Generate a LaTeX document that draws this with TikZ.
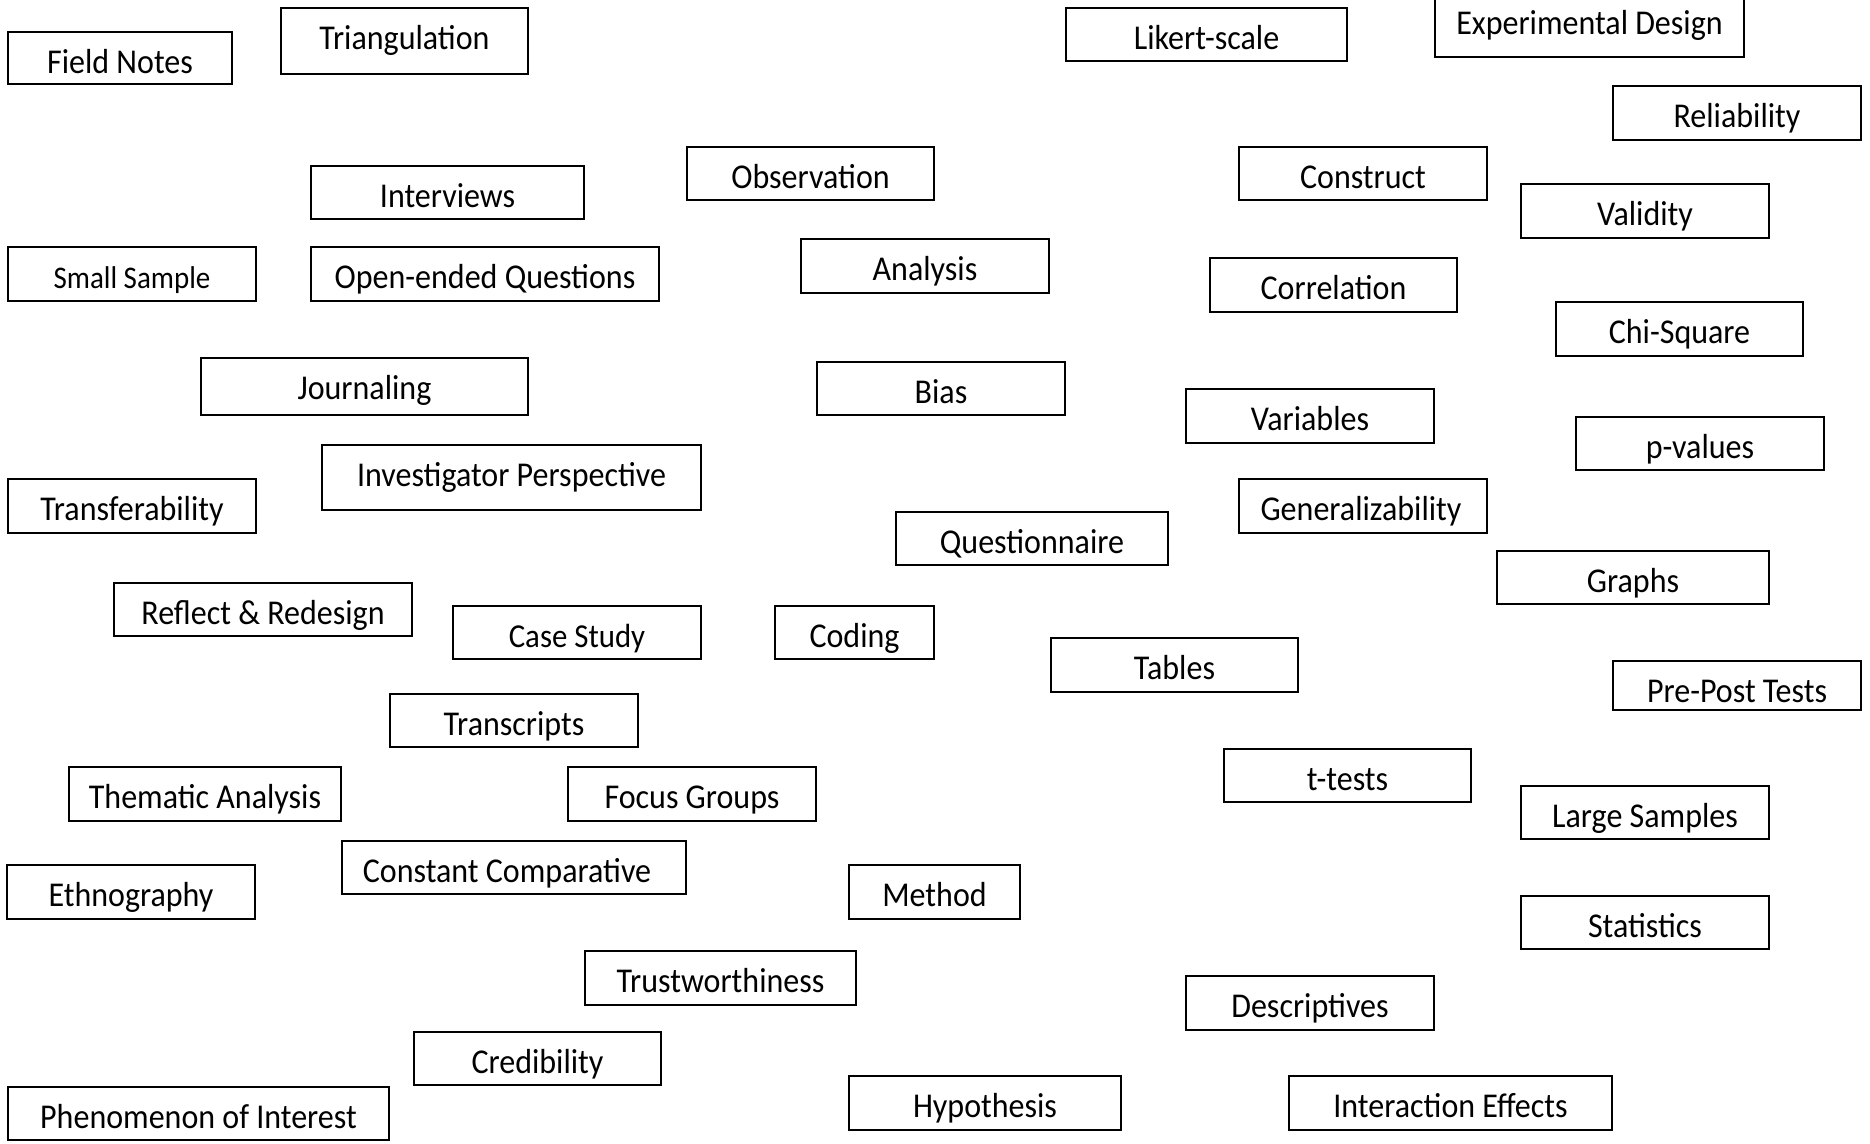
\documentclass[tikz,border=0pt]{standalone}
\usepackage{fontspec}
\setmainfont{Carlito}[FakeStretch=0.92]
\tikzset{
  conceptbox/.style={draw=black, line width=2pt, rectangle, inner sep=0pt},
  conceptlabel/.style={inner sep=0pt, anchor=base, text=black, font=\fontsize{34.8}{40}\selectfont},
  smalllabel/.style={font=\fontsize{31.5}{36}\selectfont},
  midlabel/.style={font=\fontsize{33.5}{38}\selectfont}
}
% #1 extra label options, #2 name, #3 x1, #4 y1, #5 x2, #6 y2, #7 text
\newcommand{\conceptbox}[7][]{%
  \node[conceptbox, minimum width={(#5-#3-2)*1pt}, minimum height={(#6-#4-2)*1pt}] (#2) at ({(#3+#5)/2},{(#4+#6)/2}) {};
  \node[conceptlabel,#1] (#2-text) at ([yshift=-42.5pt]#2.north) {#7};
}
\begin{document}
\begin{tikzpicture}[x=1pt,y=-1pt]
\useasboundingbox[fill=white] (0,0) rectangle (1870,1143);
\conceptbox{fieldnotes}{7}{31}{233}{85}{Field Notes}
\conceptbox{triangulation}{280}{7}{529}{75}{Triangulation}
\conceptbox{likert}{1065}{7}{1348}{62}{Likert-scale}
\conceptbox{expdesign}{1434}{-8}{1745}{58}{Experimental Design}
\conceptbox{reliability}{1612}{85}{1862}{141}{Reliability}
\conceptbox{interviews}{310}{165}{585}{220}{Interviews}
\conceptbox{observation}{686}{146}{935}{201}{Observation}
\conceptbox{construct}{1238}{146}{1488}{201}{Construct}
\conceptbox{validity}{1520}{183}{1770}{239}{Validity}
\conceptbox[smalllabel]{smallsample}{7}{246}{257}{302}{Small Sample}
\conceptbox{openended}{310}{246}{660}{302}{Open-ended Questions}
\conceptbox{analysis}{800}{238}{1050}{294}{Analysis}
\conceptbox{correlation}{1209}{257}{1458}{313}{Correlation}
\conceptbox{chisquare}{1555}{301}{1804}{357}{Chi-Square}
\conceptbox{journaling}{200}{357}{529}{416}{Journaling}
\conceptbox{bias}{816}{361}{1066}{416}{Bias}
\conceptbox{variables}{1185}{388}{1435}{444}{Variables}
\conceptbox{pvalues}{1575}{416}{1825}{471}{p-values}
\conceptbox{investigator}{321}{444}{702}{511}{Investigator Perspective}
\conceptbox{transferability}{7}{478}{257}{534}{Transferability}
\conceptbox[xshift=-2pt]{generalizability}{1238}{478}{1488}{534}{Generalizability}
\conceptbox{questionnaire}{895}{511}{1169}{566}{Questionnaire}
\conceptbox{graphs}{1496}{550}{1770}{605}{Graphs}
\conceptbox{reflect}{113}{582}{413}{637}{Reflect \& Redesign}
\conceptbox[midlabel]{casestudy}{452}{605}{702}{660}{Case Study}
\conceptbox{coding}{774}{605}{935}{660}{Coding}
\conceptbox{tables}{1050}{637}{1299}{693}{Tables}
\conceptbox{prepost}{1612}{660}{1862}{711}{Pre-Post Tests}
\conceptbox{transcripts}{389}{693}{639}{748}{Transcripts}
\conceptbox{thematic}{68}{766}{342}{822}{Thematic Analysis}
\conceptbox{focusgroups}{567}{766}{817}{822}{Focus Groups}
\conceptbox{ttests}{1223}{748}{1472}{803}{t-tests}
\conceptbox{largesamples}{1520}{785}{1770}{840}{Large Samples}
\conceptbox{ethnography}{6}{864}{256}{920}{Ethnography}
\conceptbox[xshift=-7pt]{constantcomp}{341}{840}{687}{895}{Constant Comparative}
\conceptbox{method}{848}{864}{1021}{920}{Method}
\conceptbox{statistics}{1520}{895}{1770}{950}{Statistics}
\conceptbox{trustworthiness}{584}{950}{857}{1006}{Trustworthiness}
\conceptbox{descriptives}{1185}{975}{1435}{1031}{Descriptives}
\conceptbox{credibility}{413}{1031}{662}{1086}{Credibility}
\conceptbox{phenomenon}{7}{1086}{390}{1141}{Phenomenon of Interest}
\conceptbox{hypothesis}{848}{1075}{1122}{1131}{Hypothesis}
\conceptbox{interaction}{1288}{1075}{1613}{1131}{Interaction Effects}
\end{tikzpicture}
\end{document}
